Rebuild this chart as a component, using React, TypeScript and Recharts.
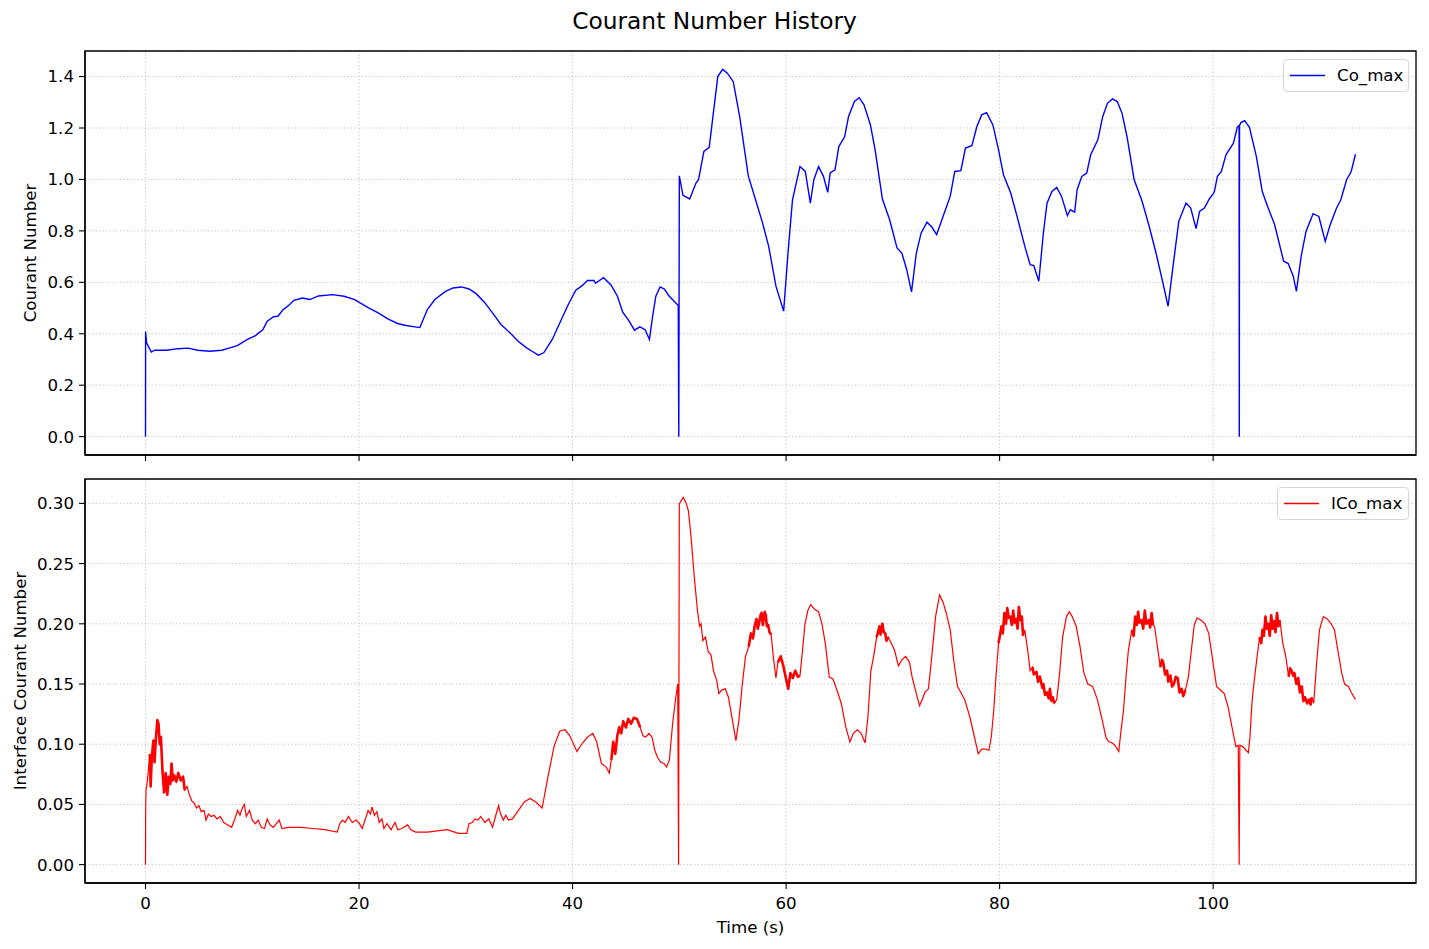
import React from "react";
import {
  LineChart,
  Line,
  XAxis,
  YAxis,
  CartesianGrid,
  Legend,
  ReferenceArea,
} from "recharts";

// [time (s), Co_max]
const coMaxPoints: [number, number][] = [
  [0, 0], [0.01, 0.409], [0.1, 0.365], [0.55, 0.329], [0.85, 0.336], [1.96, 0.336],
  [3.07, 0.342], [4.0, 0.344], [4.9, 0.336], [6.0, 0.332], [7.15, 0.336], [7.9, 0.345],
  [8.6, 0.354], [9.55, 0.378], [10.3, 0.393], [11.0, 0.416], [11.4, 0.449], [12.0, 0.466],
  [12.4, 0.468], [12.9, 0.494], [13.4, 0.51], [13.9, 0.53], [14.7, 0.539], [15.4, 0.533],
  [16.2, 0.547], [17.5, 0.552], [18.6, 0.546], [19.6, 0.533], [20.1, 0.52], [20.9, 0.501],
  [21.8, 0.481], [22.7, 0.458], [23.6, 0.44], [24.4, 0.432], [25.7, 0.424], [26.4, 0.494],
  [27.1, 0.533], [28.1, 0.565], [28.8, 0.578], [29.6, 0.582], [30.3, 0.574], [31.0, 0.555],
  [31.8, 0.52], [32.5, 0.481], [33.3, 0.436], [34.2, 0.401], [34.9, 0.371], [35.7, 0.345],
  [36.2, 0.332], [36.8, 0.317], [37.3, 0.326], [38.1, 0.378], [38.8, 0.442], [39.6, 0.514],
  [40.3, 0.569], [40.9, 0.587], [41.4, 0.607], [42.0, 0.607], [42.15, 0.596], [42.9, 0.618],
  [43.6, 0.59], [44.2, 0.546], [44.7, 0.484], [45.3, 0.449], [45.8, 0.414], [46.3, 0.427],
  [46.8, 0.416], [47.2, 0.378], [47.5, 0.468], [47.8, 0.546], [48.2, 0.582], [48.6, 0.574],
  [49.0, 0.549], [49.9, 0.51], [49.95, 0], [50.0, 1.014], [50.34, 0.938], [50.97, 0.924],
  [51.56, 0.986], [51.8, 0.999], [52.3, 1.109], [52.8, 1.125], [53.15, 1.245], [53.6, 1.4],
  [54.06, 1.428], [54.5, 1.413], [55.05, 1.38], [55.65, 1.245], [56.46, 1.014], [57.14, 0.921],
  [57.8, 0.83], [58.37, 0.74], [59.05, 0.585], [59.77, 0.488], [60.18, 0.714], [60.6, 0.921],
  [61.3, 1.05], [61.8, 1.031], [62.27, 0.908], [62.6, 0.999], [63.04, 1.05], [63.5, 1.012],
  [63.9, 0.95], [64.13, 1.025], [64.58, 1.037], [64.94, 1.128], [65.49, 1.167], [65.85, 1.245],
  [66.4, 1.303], [66.85, 1.318], [67.3, 1.29], [67.9, 1.212], [68.34, 1.115], [69.02, 0.924],
  [69.7, 0.843], [70.39, 0.734], [70.84, 0.714], [71.3, 0.649], [71.75, 0.563], [72.2, 0.714],
  [72.65, 0.792], [73.2, 0.834], [73.65, 0.815], [74.1, 0.785], [74.7, 0.856], [75.37, 0.934],
  [75.8, 1.031], [76.37, 1.034], [76.8, 1.122], [77.4, 1.131], [77.87, 1.206], [78.32, 1.251],
  [78.78, 1.26], [79.37, 1.212], [79.9, 1.115], [80.36, 1.018], [81.04, 0.947], [81.72, 0.843],
  [82.4, 0.734], [82.86, 0.669], [83.2, 0.665], [83.67, 0.604], [84.1, 0.792], [84.44, 0.908],
  [84.9, 0.953], [85.35, 0.969], [85.8, 0.934], [86.35, 0.859], [86.62, 0.882], [87.03, 0.873],
  [87.26, 0.96], [87.7, 1.012], [88.16, 1.025], [88.53, 1.096], [89.2, 1.154], [89.66, 1.245],
  [90.1, 1.296], [90.57, 1.313], [91.02, 1.303], [91.47, 1.257], [91.93, 1.167], [92.6, 0.999],
  [93.3, 0.921], [93.97, 0.824], [94.65, 0.714], [95.33, 0.591], [95.78, 0.507], [96.24, 0.662],
  [96.78, 0.837], [97.46, 0.908], [97.9, 0.889], [98.4, 0.809], [98.73, 0.876], [99.18, 0.889],
  [99.64, 0.924], [100.1, 0.95], [100.4, 1.012], [100.77, 1.031], [101.2, 1.096], [101.9, 1.141],
  [102.26, 1.203], [102.43, 1.21], [102.45, 0], [102.47, 1.21], [102.6, 1.221], [102.95, 1.229],
  [103.4, 1.203], [104.05, 1.089], [104.6, 0.953], [105.1, 0.895], [105.76, 0.824], [106.6, 0.682],
  [107.03, 0.673], [107.5, 0.624], [107.8, 0.565], [108.24, 0.701], [108.7, 0.798], [109.36, 0.867],
  [109.9, 0.856], [110.5, 0.759], [110.96, 0.824], [111.56, 0.889], [111.96, 0.921], [112.5, 0.999],
  [112.93, 1.031], [113.33, 1.098],
];

// [time (s), ICo_max]
const icoMaxPoints: [number, number][] = [
  [0, 0], [0.01, 0.041], [0.05, 0.062], [0.18, 0.07], [0.41, 0.092], [0.48, 0.065], [0.59, 0.089],
  [0.74, 0.103], [0.85, 0.085], [0.96, 0.103], [1.11, 0.12], [1.22, 0.117], [1.33, 0.1], [1.44, 0.106],
  [1.59, 0.078], [1.74, 0.06], [1.89, 0.076], [2.04, 0.058], [2.18, 0.073], [2.33, 0.067], [2.44, 0.084],
  [2.56, 0.07], [2.7, 0.074], [2.89, 0.069], [3.07, 0.076], [3.3, 0.07], [3.52, 0.073], [3.67, 0.062],
  [3.89, 0.065], [4.11, 0.058], [4.33, 0.053], [4.56, 0.051], [4.78, 0.047], [5.0, 0.049], [5.22, 0.044],
  [5.48, 0.045], [5.67, 0.037], [5.89, 0.042], [6.15, 0.04], [6.41, 0.041], [6.7, 0.038], [7.0, 0.04],
  [7.33, 0.035], [7.7, 0.033], [8.07, 0.031], [8.33, 0.037], [8.63, 0.045], [8.85, 0.041], [9.07, 0.047],
  [9.26, 0.05], [9.44, 0.04], [9.74, 0.045], [10.0, 0.037], [10.3, 0.034], [10.56, 0.037], [10.85, 0.031],
  [11.15, 0.03], [11.4, 0.038], [11.67, 0.033], [11.96, 0.031], [12.26, 0.034], [12.52, 0.037],
  [12.78, 0.03], [13.44, 0.031], [14.56, 0.031], [15.67, 0.03], [16.78, 0.029], [17.96, 0.027],
  [18.19, 0.034], [18.44, 0.037], [18.7, 0.035], [19.0, 0.04], [19.37, 0.035], [19.74, 0.037],
  [20.04, 0.034], [20.3, 0.03], [20.56, 0.037], [20.85, 0.045], [21.07, 0.042], [21.22, 0.048],
  [21.44, 0.041], [21.67, 0.044], [21.89, 0.035], [22.15, 0.038], [22.33, 0.03], [22.63, 0.034],
  [23.0, 0.029], [23.37, 0.035], [23.63, 0.029], [24.0, 0.03], [24.56, 0.033], [24.85, 0.029],
  [25.3, 0.027], [26.4, 0.027], [28.26, 0.029], [29.3, 0.026], [30.1, 0.026], [30.3, 0.034],
  [30.6, 0.035], [30.85, 0.038], [31.15, 0.037], [31.4, 0.04], [31.78, 0.035], [32.15, 0.038],
  [32.5, 0.031], [32.78, 0.04], [33.07, 0.049], [33.26, 0.042], [33.52, 0.037], [33.74, 0.041],
  [34.0, 0.037], [34.37, 0.038], [34.93, 0.045], [35.48, 0.052], [36.0, 0.055], [36.56, 0.052],
  [37.15, 0.047], [37.7, 0.073], [38.26, 0.098], [38.81, 0.111], [39.3, 0.112], [39.74, 0.107],
  [40.41, 0.094], [40.93, 0.101], [41.41, 0.106], [41.89, 0.109], [42.26, 0.102], [42.7, 0.084],
  [43.15, 0.081], [43.44, 0.076], [43.63, 0.087], [43.81, 0.102], [44.0, 0.092], [44.19, 0.107],
  [44.37, 0.114], [44.56, 0.109], [44.74, 0.119], [45.0, 0.114], [45.22, 0.121], [45.48, 0.117],
  [45.74, 0.122], [46.04, 0.121], [46.33, 0.114], [46.59, 0.107], [46.85, 0.106], [47.15, 0.109],
  [47.44, 0.106], [47.7, 0.095], [47.96, 0.089], [48.26, 0.085], [48.56, 0.084], [48.81, 0.081],
  [49.07, 0.087], [49.37, 0.117], [49.67, 0.139], [49.85, 0.15], [49.93, 0], [50.0, 0.3],
  [50.1, 0.301], [50.37, 0.305], [50.6, 0.301], [50.85, 0.294], [51.1, 0.272], [51.4, 0.239],
  [51.7, 0.211], [51.9, 0.198], [52.04, 0.2], [52.2, 0.186], [52.45, 0.189], [52.7, 0.177],
  [52.97, 0.174], [53.2, 0.161], [53.5, 0.153], [53.7, 0.142], [53.97, 0.145], [54.3, 0.146],
  [54.6, 0.139], [54.97, 0.12], [55.3, 0.103], [55.58, 0.12], [55.9, 0.15], [56.2, 0.173],
  [56.5, 0.181], [56.7, 0.192], [56.9, 0.188], [57.05, 0.198], [57.23, 0.204], [57.35, 0.196],
  [57.46, 0.2], [57.6, 0.207], [57.7, 0.209], [57.82, 0.199], [57.9, 0.204], [58.0, 0.21],
  [58.1, 0.207], [58.2, 0.198], [58.32, 0.199], [58.45, 0.193], [58.6, 0.191], [58.8, 0.173],
  [59.05, 0.155], [59.23, 0.168], [59.5, 0.173], [59.77, 0.164], [59.95, 0.156], [60.2, 0.146],
  [60.4, 0.159], [60.63, 0.155], [60.86, 0.161], [61.1, 0.156], [61.3, 0.157], [61.54, 0.178],
  [61.77, 0.2], [62.04, 0.211], [62.3, 0.216], [62.67, 0.212], [63.04, 0.21], [63.36, 0.2],
  [63.67, 0.184], [64.04, 0.156], [64.4, 0.154], [64.76, 0.145], [65.17, 0.134], [65.6, 0.114],
  [65.98, 0.102], [66.3, 0.109], [66.67, 0.112], [67.03, 0.109], [67.4, 0.101], [67.67, 0.123],
  [67.94, 0.161], [68.2, 0.173], [68.48, 0.189], [68.75, 0.198], [68.85, 0.191], [69.02, 0.2],
  [69.15, 0.193], [69.29, 0.192], [69.4, 0.186], [69.56, 0.189], [69.84, 0.184], [70.16, 0.178],
  [70.52, 0.165], [70.84, 0.17], [71.2, 0.173], [71.56, 0.168], [71.8, 0.156], [72.2, 0.142],
  [72.5, 0.132], [72.74, 0.137], [73.0, 0.143], [73.33, 0.146], [73.65, 0.173], [74.0, 0.206],
  [74.38, 0.224], [74.7, 0.218], [75.0, 0.209], [75.37, 0.195], [75.74, 0.167], [76.05, 0.148],
  [76.37, 0.143], [76.73, 0.137], [77.2, 0.123], [77.64, 0.106], [78.0, 0.092], [78.32, 0.096],
  [78.64, 0.096], [79.0, 0.095], [79.22, 0.106], [79.45, 0.128], [79.68, 0.159], [79.9, 0.184],
  [80.18, 0.198], [80.3, 0.192], [80.45, 0.209], [80.6, 0.2], [80.72, 0.213], [80.85, 0.205],
  [81.0, 0.206], [81.15, 0.199], [81.27, 0.211], [81.4, 0.201], [81.54, 0.204], [81.68, 0.196],
  [81.8, 0.214], [81.95, 0.203], [82.08, 0.206], [82.2, 0.19], [82.36, 0.195], [82.63, 0.178],
  [82.86, 0.161], [83.08, 0.164], [83.2, 0.158], [83.45, 0.16], [83.6, 0.152], [83.77, 0.156],
  [84.0, 0.147], [84.1, 0.15], [84.25, 0.141], [84.44, 0.143], [84.6, 0.138], [84.71, 0.146],
  [84.85, 0.136], [84.98, 0.139], [85.12, 0.134], [85.35, 0.137], [85.62, 0.159], [85.9, 0.189],
  [86.26, 0.206], [86.53, 0.21], [86.8, 0.206], [87.17, 0.198], [87.53, 0.181], [87.9, 0.159],
  [88.26, 0.15], [88.71, 0.148], [89.16, 0.137], [89.61, 0.12], [89.98, 0.105], [90.25, 0.102],
  [90.57, 0.101], [90.89, 0.098], [91.16, 0.094], [91.34, 0.109], [91.6, 0.128], [91.84, 0.156],
  [92.06, 0.178], [92.38, 0.195], [92.55, 0.19], [92.7, 0.206], [92.85, 0.199], [92.97, 0.21],
  [93.1, 0.201], [93.29, 0.203], [93.45, 0.196], [93.6, 0.211], [93.75, 0.2], [93.97, 0.203],
  [94.1, 0.197], [94.24, 0.209], [94.37, 0.199], [94.51, 0.198], [94.78, 0.181], [95.05, 0.164],
  [95.2, 0.17], [95.32, 0.168], [95.5, 0.158], [95.69, 0.161], [95.8, 0.152], [96.0, 0.157],
  [96.15, 0.148], [96.32, 0.15], [96.5, 0.156], [96.68, 0.155], [96.85, 0.143], [97.04, 0.146],
  [97.2, 0.14], [97.4, 0.145], [97.68, 0.156], [97.96, 0.178], [98.23, 0.199], [98.5, 0.205],
  [98.87, 0.203], [99.23, 0.2], [99.59, 0.192], [99.95, 0.17], [100.32, 0.148], [100.68, 0.145],
  [101.04, 0.142], [101.4, 0.131], [101.77, 0.114], [102.13, 0.098], [102.35, 0.099], [102.44, 0],
  [102.5, 0.099], [102.77, 0.098], [103.08, 0.095], [103.3, 0.093], [103.45, 0.106], [103.63, 0.134],
  [103.81, 0.15], [104.08, 0.17], [104.35, 0.189], [104.5, 0.184], [104.62, 0.195], [104.75, 0.19],
  [104.9, 0.206], [105.03, 0.196], [105.16, 0.2], [105.3, 0.19], [105.44, 0.207], [105.57, 0.196],
  [105.71, 0.202], [105.84, 0.193], [105.98, 0.209], [106.12, 0.198], [106.25, 0.203], [106.52, 0.184],
  [106.8, 0.173], [107.07, 0.156], [107.2, 0.163], [107.34, 0.161], [107.5, 0.157], [107.61, 0.159],
  [107.8, 0.15], [107.97, 0.155], [108.12, 0.143], [108.3, 0.148], [108.45, 0.136], [108.6, 0.139],
  [108.8, 0.134], [108.97, 0.137], [109.13, 0.133], [109.24, 0.139], [109.42, 0.134], [109.69, 0.167],
  [109.96, 0.195], [110.32, 0.206], [110.69, 0.204], [111.05, 0.2], [111.36, 0.195], [111.68, 0.178],
  [112.04, 0.159], [112.31, 0.15], [112.67, 0.148], [112.94, 0.143], [113.33, 0.137],
];

// time spans (s) where ICo_max jitters fast enough to look like a thick band
const icoNoisySpans: [number, number][] = [
  [0.4, 3.7], [43.6, 46.4], [56.4, 58.7], [59.2, 61.3], [68.3, 69.8], [79.8, 82.3],
  [82.9, 85.3], [92.3, 94.5], [95.0, 97.5], [104.3, 106.3], [107.0, 109.4],
];

const timeTicks = [0, 20, 40, 60, 80, 100];
const coTicks = [0, 0.2, 0.4, 0.6, 0.8, 1.0, 1.2, 1.4];
const icoTicks = [0, 0.05, 0.1, 0.15, 0.2, 0.25, 0.3];

const X_DOMAIN: [number, number] = [-5.667, 119.0];
const CO_DOMAIN: [number, number] = [-0.0714, 1.4994];
const ICO_DOMAIN: [number, number] = [-0.01525, 0.32025];

const FONT = "DejaVu Sans, sans-serif";
const FS = 16.67;
const GRID = "#c6c6c6";
const tickStyle = { fill: "#000", fontSize: FS, fontFamily: FONT };
const axisLine = { stroke: "#000", strokeWidth: 1.3 };
const tickLine = { stroke: "#000", strokeWidth: 1.1 };

const coData = coMaxPoints.map(([t, v]) => ({ t, v }));
const icoData = icoMaxPoints.map(([t, v]) => ({ t, v }));
const icoNoisyData = icoMaxPoints.map(([t, v]) => ({
  t,
  v: icoNoisySpans.some(([a, b]) => t >= a && t <= b) ? v : null,
}));

function LegendBox({ name, color, width }: { name: string; color: string; width: number }) {
  return (
    <svg width={width} height={33} style={{ display: "block" }}>
      <rect x={0.5} y={0.5} width={width - 1} height={32} rx={3.5} fill="#fff" fillOpacity={0.8} stroke="#d6d6d6" />
      <line x1={7} x2={42} y1={16.5} y2={16.5} stroke={color} strokeWidth={1.4} />
      <text x={54} y={22} fontFamily={FONT} fontSize={FS} fill="#000">
        {name}
      </text>
    </svg>
  );
}

export default function App() {
  return (
    <div style={{ position: "absolute", left: 0, top: 0, width: 1429, height: 949, background: "#fff" }}>
      <div style={{ position: "absolute", left: 0, top: 0 }}>
        <LineChart width={1429} height={470} data={coData} margin={{ top: 51, right: 13, left: 20, bottom: 0 }}>
          <CartesianGrid stroke={GRID} strokeDasharray="1.3 2.2" />
          <XAxis
            dataKey="t"
            type="number"
            domain={X_DOMAIN}
            ticks={timeTicks}
            interval={0}
            allowDataOverflow
            height={15}
            tickSize={6}
            axisLine={axisLine}
            tickLine={tickLine}
            tickFormatter={() => ""}
            label={() => (
              <text x={714.5} y={29.3} textAnchor="middle" fontFamily={FONT} fontSize={23.33} fill="#000">
                Courant Number History
              </text>
            )}
          />
          <YAxis
            type="number"
            domain={CO_DOMAIN}
            ticks={coTicks}
            interval={0}
            allowDataOverflow
            width={65}
            tickSize={6}
            tickMargin={5}
            axisLine={axisLine}
            tickLine={tickLine}
            tick={tickStyle}
            tickFormatter={(v: number) => v.toFixed(1)}
            label={() => (
              <text
                x={35.5}
                y={253}
                transform="rotate(-90 35.5 253)"
                textAnchor="middle"
                fontFamily={FONT}
                fontSize={FS}
                fill="#000"
              >
                Courant Number
              </text>
            )}
          />
          <ReferenceArea
            x1={X_DOMAIN[0]}
            x2={X_DOMAIN[1]}
            y1={CO_DOMAIN[0]}
            y2={CO_DOMAIN[1]}
            fill="none"
            stroke="#000"
            strokeWidth={1.3}
            ifOverflow="visible"
          />
          <Legend
            layout="vertical"
            align="center"
            verticalAlign="middle"
            wrapperStyle={{ left: 1283, top: 59, width: 126, height: 33 }}
            content={() => <LegendBox name="Co_max" color="#0000ff" width={126} />}
          />
          <Line
            type="linear"
            dataKey="v"
            name="Co_max"
            stroke="#0000ff"
            strokeWidth={1.4}
            dot={false}
            activeDot={false}
            isAnimationActive={false}
          />
        </LineChart>
      </div>
      <div style={{ position: "absolute", left: 0, top: 470 }}>
        <LineChart width={1429} height={479} data={icoData} margin={{ top: 9, right: 13, left: 20, bottom: 0 }}>
          <CartesianGrid stroke={GRID} strokeDasharray="1.3 2.2" />
          <XAxis
            dataKey="t"
            type="number"
            domain={X_DOMAIN}
            ticks={timeTicks}
            interval={0}
            allowDataOverflow
            height={66}
            tickSize={6}
            tickMargin={8}
            axisLine={axisLine}
            tickLine={tickLine}
            tick={tickStyle}
            label={() => (
              <text x={750.5} y={463} textAnchor="middle" fontFamily={FONT} fontSize={FS} fill="#000">
                Time (s)
              </text>
            )}
          />
          <YAxis
            type="number"
            domain={ICO_DOMAIN}
            ticks={icoTicks}
            interval={0}
            allowDataOverflow
            width={65}
            tickSize={6}
            tickMargin={5}
            axisLine={axisLine}
            tickLine={tickLine}
            tick={tickStyle}
            tickFormatter={(v: number) => v.toFixed(2)}
            label={() => (
              <text
                x={25.5}
                y={211}
                transform="rotate(-90 25.5 211)"
                textAnchor="middle"
                fontFamily={FONT}
                fontSize={FS}
                fill="#000"
              >
                Interface Courant Number
              </text>
            )}
          />
          <ReferenceArea
            x1={X_DOMAIN[0]}
            x2={X_DOMAIN[1]}
            y1={ICO_DOMAIN[0]}
            y2={ICO_DOMAIN[1]}
            fill="none"
            stroke="#000"
            strokeWidth={1.3}
            ifOverflow="visible"
          />
          <Legend
            layout="vertical"
            align="center"
            verticalAlign="middle"
            wrapperStyle={{ left: 1277, top: 16.7, width: 132, height: 33 }}
            content={() => <LegendBox name="ICo_max" color="#ff0000" width={132} />}
          />
          <Line
            type="linear"
            dataKey="v"
            name="ICo_max"
            stroke="#ff0000"
            strokeWidth={1.2}
            dot={false}
            activeDot={false}
            isAnimationActive={false}
          />
          <Line
            data={icoNoisyData}
            type="linear"
            dataKey="v"
            name="ICo_max jitter"
            stroke="#ff0000"
            strokeWidth={2.6}
            strokeLinejoin="round"
            connectNulls={false}
            dot={false}
            activeDot={false}
            legendType="none"
            isAnimationActive={false}
          />
        </LineChart>
      </div>
    </div>
  );
}
